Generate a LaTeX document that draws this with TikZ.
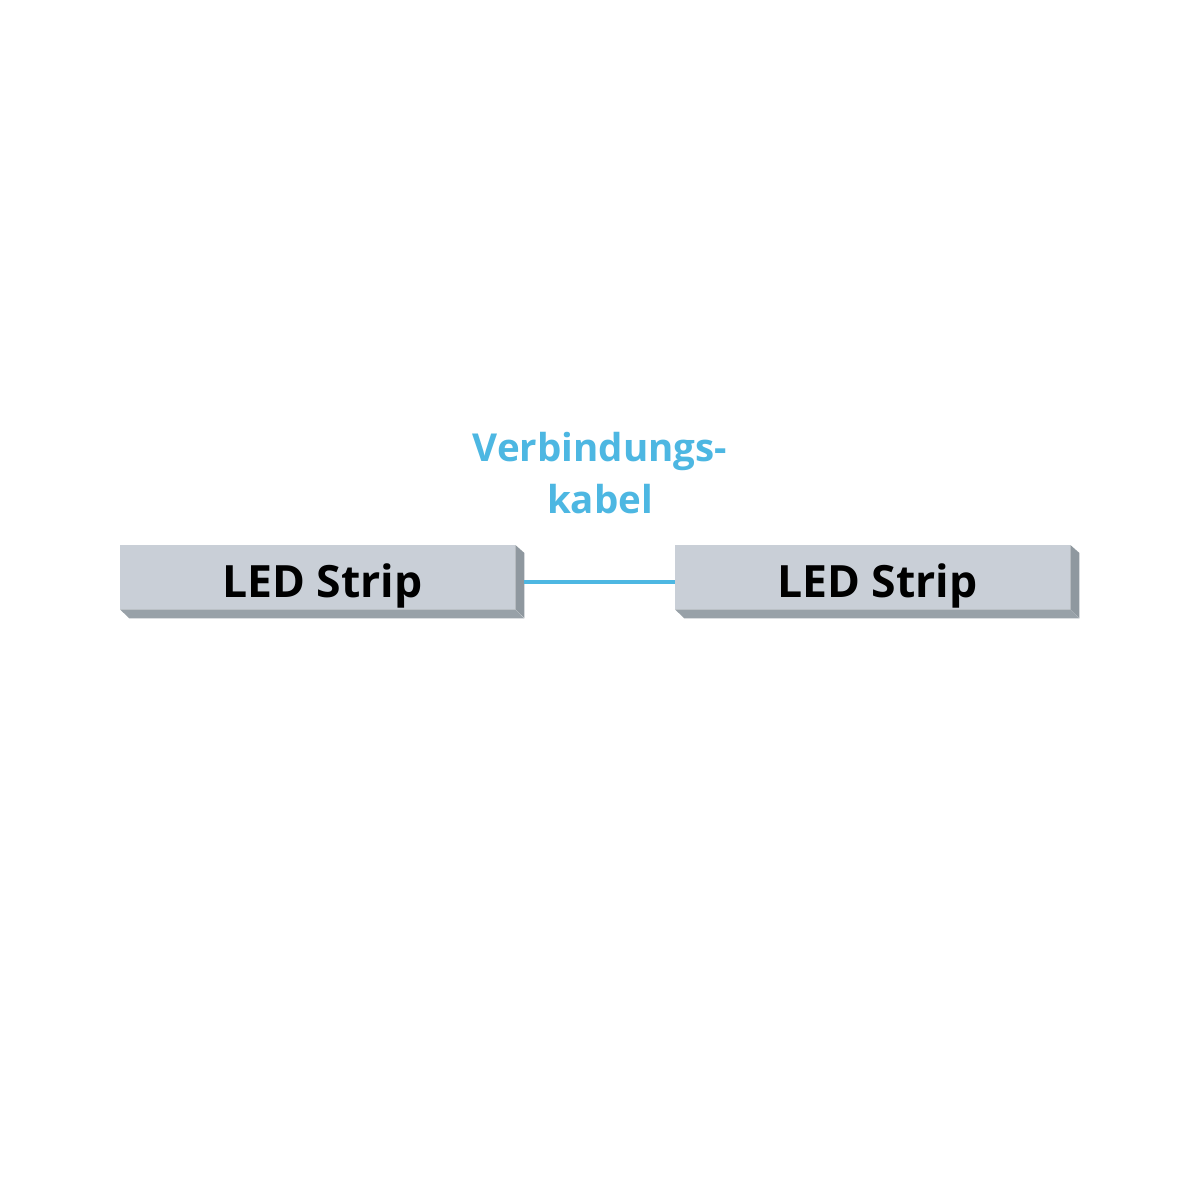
\documentclass[tikz,border=0pt]{standalone}
\usepackage{fontspec}
\setmainfont{Open Sans}[BoldFont={* Bold}]
\definecolor{face}{HTML}{C9CFD7}
\definecolor{sidec}{HTML}{8F989F}
\definecolor{bottomc}{HTML}{98A1A8}
\definecolor{cable}{HTML}{4DB7E2}
\begin{document}
\begin{tikzpicture}[x=1pt,y=-1pt,
  strip/.style={rectangle,fill=face,minimum width=395pt,minimum height=64pt,inner sep=0pt,anchor=north west},
  striplabel/.style={font=\fontsize{44.5}{50}\selectfont\bfseries,text=black},
  cabletext/.style={font=\fontsize{38.5}{52}\selectfont\bfseries,text=cable,align=center},
  cableline/.style={draw=cable,line width=3.5pt}]
\useasboundingbox (0,0) rectangle (1200,1200);
\fill[white] (0,0) rectangle (1200,1200);
% left strip
\node[strip] (left) at (120,545) {};
\fill[sidec] (left.north east) -- ++(9,8) -- ++(0,65) -- (left.south east) -- cycle;
\fill[bottomc] (left.south west) -- (left.south east) -- ++(9,9) -- ++(-395,0) -- cycle;
\node[striplabel] (leftlabel) at ([xshift=4.5pt,yshift=-9pt]left.center) {LED Strip};
% right strip
\node[strip] (right) at (675,545) {};
\fill[sidec] (right.north east) -- ++(9,8) -- ++(0,65) -- (right.south east) -- cycle;
\fill[bottomc] (right.south west) -- (right.south east) -- ++(9,9) -- ++(-395,0) -- cycle;
\node[striplabel] (rightlabel) at ([xshift=4.5pt,yshift=-9pt]right.center) {LED Strip};
% cable
\coordinate (cstart) at ([xshift=9pt,yshift=-5pt]left.east);
\draw[cableline] (cstart) -- ([yshift=-5pt]right.west);
\node[cabletext] (cablelabel) at (600,473) {Verbindungs-\\kabel};
\end{tikzpicture}
\end{document}
